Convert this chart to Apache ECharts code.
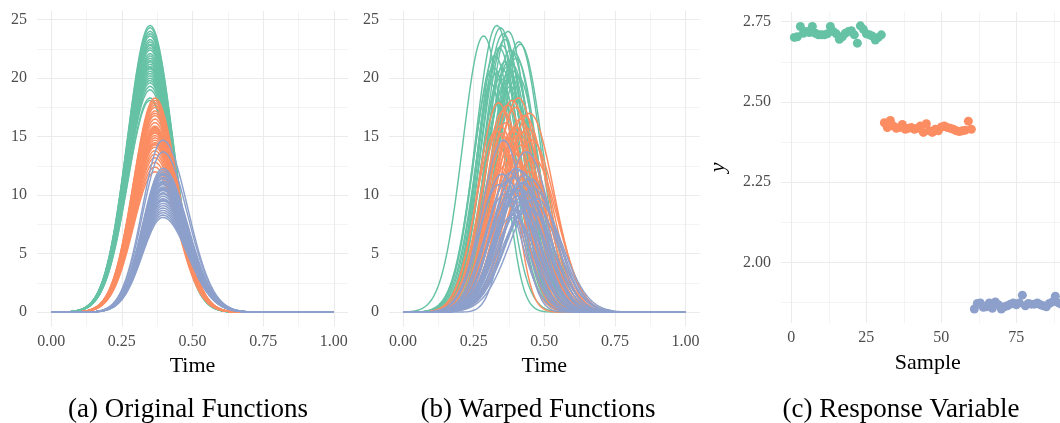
<!DOCTYPE html>
<html><head><meta charset="utf-8">
<script src="https://cdn.jsdelivr.net/npm/echarts@6/dist/echarts.min.js"></script>
<style>html,body{margin:0;padding:0;background:#fff}#c{width:1060px;height:423px}</style>
</head><body><div id="c"></div>
<script>
// ---------- tick labels ----------
const timeTicks = [0, 0.25, 0.5, 0.75, 1];
const timeMinor = [0.125, 0.375, 0.625, 0.875];
const funcTicks = [0, 5, 10, 15, 20, 25];
const funcMinor = [2.5, 7.5, 12.5, 17.5, 22.5];
const sampleTicks = [0, 25, 50, 75];
const sampleMinor = [12.5, 37.5, 62.5, 87.5];
const respTicks = [2.0, 2.25, 2.5, 2.75];
const respMinor = [1.875, 2.125, 2.375, 2.625];

// ---------- curve peak heights ----------
const greenAmp  = [24.5,24.3,24.0,23.8,23.6,23.3,23.1,22.9,22.6,22.4,22.1,21.9,21.7,21.4,21.2,21.0,20.8,20.6,20.4,20.2,20.0,19.8,19.6,19.3,19.0,18.3,18.1,22.8,21.5,20.9];
const orangeAmp = [18.3,18.1,17.9,17.7,17.5,17.2,17.0,16.8,16.5,16.2,15.9,15.7,15.6,15.5,15.4,15.3,15.1,14.9,14.7,14.5,14.3,14.1,13.8,13.5,13.2,12.8,12.4,12.0,15.8,14.4];
const purpleAmp = [14.7,13.7,12.3,12.1,11.9,11.7,11.5,11.4,11.2,11.0,10.9,10.7,10.6,10.4,10.2,10.1,9.9,9.7,9.5,9.3,9.1,8.9,8.7,8.5,8.3,8.1,11.8,10.5,9.6,11.1];

// (a) original functions: group peak location and left/right spread
const greenShapeA  = [0.350, 0.080, 0.080];
const orangeShapeA = [0.367, 0.076, 0.080];
const purpleShapeA = [0.395, 0.072, 0.088];

// (b) warped functions: peak location and spread per curve
const greenPeakB  = [0.332,0.345,0.372,0.355,0.285,0.360,0.410,0.415,0.340,0.380,0.395,0.325,0.400,0.360,0.385,0.370,0.350,0.390,0.330,0.405,0.345,0.365,0.310,0.380,0.355,0.395,0.340,0.350,0.375,0.320];
const greenSpreadB= [0.075,0.076,0.074,0.078,0.074,0.075,0.078,0.080,0.072,0.077,0.076,0.073,0.078,0.070,0.076,0.075,0.072,0.077,0.074,0.078,0.071,0.075,0.055,0.076,0.073,0.078,0.072,0.074,0.076,0.073];
const orangePeakB  = [0.408,0.386,0.338,0.370,0.398,0.355,0.448,0.430,0.415,0.365,0.345,0.440,0.390,0.330,0.425,0.350,0.405,0.375,0.455,0.360,0.420,0.380,0.435,0.395,0.460,0.370,0.410,0.445,0.400,0.350];
const orangeSpreadB= [0.080,0.078,0.072,0.076,0.079,0.074,0.086,0.083,0.080,0.075,0.073,0.085,0.078,0.072,0.082,0.052,0.080,0.076,0.087,0.074,0.082,0.077,0.084,0.078,0.087,0.075,0.080,0.085,0.079,0.073];
const purplePeakB  = [0.355,0.437,0.400,0.415,0.380,0.430,0.390,0.450,0.370,0.420,0.340,0.410,0.460,0.385,0.435,0.360,0.405,0.470,0.395,0.425,0.375,0.445,0.410,0.430,0.390,0.390,0.350,0.400,0.455,0.425];
const purpleSpreadB= [0.075,0.085,0.080,0.082,0.078,0.085,0.079,0.090,0.077,0.083,0.074,0.081,0.090,0.078,0.086,0.076,0.080,0.092,0.079,0.084,0.077,0.089,0.081,0.084,0.079,0.050,0.075,0.080,0.090,0.083];

// ---------- response variable y (samples 1..90) ----------
const greenResp  = [2.701,2.703,2.735,2.714,2.719,2.716,2.735,2.714,2.709,2.709,2.709,2.712,2.735,2.719,2.712,2.695,2.703,2.714,2.719,2.722,2.709,2.683,2.737,2.726,2.712,2.709,2.705,2.693,2.701,2.709];
const orangeResp = [2.435,2.420,2.442,2.425,2.418,2.420,2.430,2.415,2.418,2.420,2.415,2.418,2.425,2.405,2.432,2.410,2.405,2.415,2.410,2.422,2.425,2.420,2.418,2.415,2.410,2.408,2.410,2.412,2.440,2.415];
const purpleResp = [1.855,1.872,1.874,1.860,1.862,1.874,1.857,1.877,1.868,1.855,1.862,1.865,1.870,1.874,1.868,1.874,1.898,1.865,1.872,1.870,1.870,1.874,1.868,1.865,1.862,1.872,1.877,1.895,1.874,1.870];

const COLORS = ['#66C2A5', '#FC8D62', '#8DA0CB'];
const FONT = 'Liberation Serif';

// evaluation grid on [0, 1]
const timeGrid = [];
for (let k = 0; k <= 400; k++) timeGrid.push(k / 400);

function bump(amp, c, sL, sR) {
  return timeGrid.map(t => {
    const s = t < c ? sL : sR;
    return [t, amp * Math.exp(-(t - c) * (t - c) / (2 * s * s))];
  });
}

const grids = [
  { left: 37,  top: 11,   width: 311,   height: 315.5, outerBoundsMode: 'none' },
  { left: 389, top: 11,   width: 310.6, height: 315.5, outerBoundsMode: 'none' },
  { left: 781, top: 11.7, width: 293.7, height: 311.4, outerBoundsMode: 'none' }
];

const xAxes = [], yAxes = [];
function addAxes(list, gi, min, max, major, minor, fmt, isX, nameOpt) {
  const lab = { show: true, customValues: major, color: '#4D4D4D', fontFamily: FONT, fontSize: 16,
                margin: isX ? 7 : 10, formatter: fmt };
  list.push(Object.assign({
    type: 'value', gridIndex: gi, min: min, max: max,
    axisLine: { show: false },
    axisTick: { show: false, customValues: major },
    axisLabel: lab,
    splitLine: { show: true, lineStyle: { color: '#EBEBEB', width: 1.1 } }
  }, nameOpt || {}));
  list.push({
    type: 'value', gridIndex: gi, min: min, max: max,
    axisLine: { show: false },
    axisTick: { show: false, customValues: minor },
    axisLabel: { show: false, customValues: minor },
    splitLine: { show: true, lineStyle: { color: '#EBEBEB', width: 0.55 } }
  });
}
const f2 = v => v.toFixed(2);
const f0 = v => String(Math.round(v));
const timeName = { name: 'Time', nameLocation: 'middle', nameGap: 29,
  nameTextStyle: { fontFamily: FONT, fontSize: 22, color: '#000' } };

addAxes(xAxes, 0, -0.05, 1.05, timeTicks, timeMinor, f2, true, timeName);
addAxes(yAxes, 0, -1.225, 25.725, funcTicks, funcMinor, f0, false);
addAxes(xAxes, 1, -0.05, 1.05, timeTicks, timeMinor, f2, true, timeName);
addAxes(yAxes, 1, -1.225, 25.725, funcTicks, funcMinor, f0, false);
addAxes(xAxes, 2, -3.45, 94.45, sampleTicks, sampleMinor, f0, true,
  { name: 'Sample', nameLocation: 'middle', nameGap: 29,
    nameTextStyle: { fontFamily: FONT, fontSize: 22, color: '#000' } });
addAxes(yAxes, 2, 1.811, 2.781, respTicks, respMinor, f2, false,
  { name: 'y', nameLocation: 'middle', nameGap: 52, nameRotate: 90,
    nameTextStyle: { fontFamily: FONT, fontSize: 22, fontStyle: 'italic', color: '#000' } });

const series = [];
function addLines(axisIdx, amps, color, shapeFn) {
  amps.forEach((a, i) => {
    const [c, sL, sR] = shapeFn(i);
    series.push({
      type: 'line', xAxisIndex: axisIdx, yAxisIndex: axisIdx, data: bump(a, c, sL, sR),
      showSymbol: false, silent: true, animation: false,
      lineStyle: { color: color, width: 1.45 }, itemStyle: { color: color }
    });
  });
}
// panel (a)
addLines(0, greenAmp,  COLORS[0], () => greenShapeA);
addLines(0, orangeAmp, COLORS[1], () => orangeShapeA);
addLines(0, purpleAmp, COLORS[2], () => purpleShapeA);
// panel (b)
addLines(2, greenAmp,  COLORS[0], i => [greenPeakB[i],  greenSpreadB[i],  greenSpreadB[i]]);
addLines(2, orangeAmp, COLORS[1], i => [orangePeakB[i], orangeSpreadB[i], orangeSpreadB[i]]);
addLines(2, purpleAmp, COLORS[2], i => [purplePeakB[i], purpleSpreadB[i], purpleSpreadB[i]]);
// panel (c)
[greenResp, orangeResp, purpleResp].forEach((arr, g) => {
  series.push({
    type: 'scatter', xAxisIndex: 4, yAxisIndex: 4, symbolSize: 9, silent: true, animation: false,
    itemStyle: { color: COLORS[g], opacity: 1 },
    data: arr.map((v, i) => [g * 30 + i + 1, v])
  });
});

const capStyle = { fontFamily: FONT, fontSize: 27, fill: '#000', textAlign: 'center', textVerticalAlign: 'middle' };
const chart = echarts.init(document.getElementById('c'), null, { renderer: 'canvas' });
chart.setOption({
  backgroundColor: '#fff',
  animation: false,
  grid: grids,
  xAxis: xAxes,
  yAxis: yAxes,
  series: series,
  graphic: [
    { type: 'text', x: 188, y: 410, style: Object.assign({ text: '(a) Original Functions' }, capStyle) },
    { type: 'text', x: 538, y: 410, style: Object.assign({ text: '(b) Warped Functions' }, capStyle) },
    { type: 'text', x: 901, y: 410, style: Object.assign({ text: '(c) Response Variable' }, capStyle) }
  ]
});
</script></body></html>
